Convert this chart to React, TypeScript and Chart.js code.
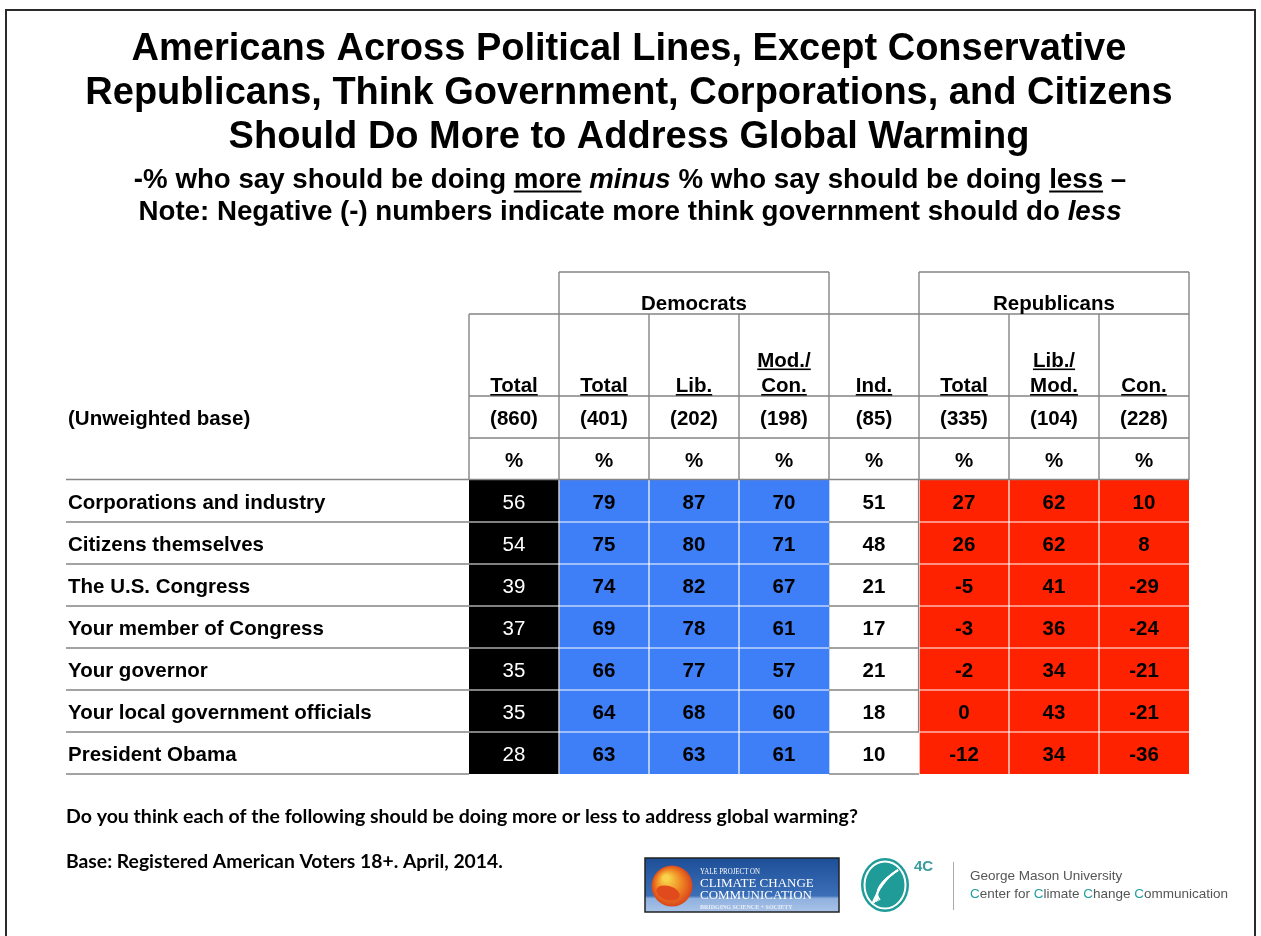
import React, { useEffect, useRef } from "react";
import { Chart, registerables } from "chart.js";

Chart.register(...registerables);

// ---------------- DATA ----------------
const titleLines = [
  "Americans Across Political Lines, Except Conservative",
  "Republicans, Think Government, Corporations, and Citizens",
  "Should Do More to Address Global Warming",
];

const subtitleLine1 = [
  { text: "-% who say should be doing " },
  { text: "more", underline: true },
  { text: " " },
  { text: "minus", italic: true },
  { text: " % who say should be doing " },
  { text: "less", underline: true },
  { text: " \u2013" },
];

const subtitleLine2 = [
  { text: "Note: Negative (-) numbers indicate more think government should do " },
  { text: "less", italic: true },
];

const rowLabels = [
  "Corporations and industry",
  "Citizens themselves",
  "The U.S. Congress",
  "Your member of Congress",
  "Your governor",
  "Your local government officials",
  "President Obama",
];

const columnHeaders = [
  ["Total"],
  ["Total"],
  ["Lib."],
  ["Mod./", "Con."],
  ["Ind."],
  ["Total"],
  ["Lib./", "Mod."],
  ["Con."],
];

const groupLabels = ["Democrats", "Republicans"];
const groupColumns = [
  [1, 3],
  [5, 7],
];

const baseLabel = "(Unweighted base)";
const unweightedBase = [860, 401, 202, 198, 85, 335, 104, 228];

const totalAll = [56, 54, 39, 37, 35, 35, 28];
const demTotal = [79, 75, 74, 69, 66, 64, 63];
const demLib = [87, 80, 82, 78, 77, 68, 63];
const demModCon = [70, 71, 67, 61, 57, 60, 61];
const independents = [51, 48, 21, 17, 21, 18, 10];
const repTotal = [27, 26, -5, -3, -2, 0, -12];
const repLibMod = [62, 62, 41, 36, 34, 43, 34];
const repCon = [10, 8, -29, -24, -21, -21, -36];

const columnValues = [
  totalAll,
  demTotal,
  demLib,
  demModCon,
  independents,
  repTotal,
  repLibMod,
  repCon,
];

const footnoteQuestion =
  "Do you think each of the following should be doing more or less to address global warming?";
const footnoteBase = "Base: Registered American Voters 18+. April, 2014.";

// ---------------- STYLE ----------------
const SANS = '"Liberation Sans", Arial, Helvetica, sans-serif';
const SERIF = '"Liberation Serif", "DejaVu Serif", serif';
const BLACK = "#000000";
const BLUE = "#3e7ef7";
const RED = "#ff2200";
const WHITE = "#ffffff";
const GRID = "#858585";
const columnFills = [BLACK, BLUE, BLUE, BLUE, WHITE, RED, RED, RED];

type Seg = { text: string; italic?: boolean; underline?: boolean };

function drawSegs(ctx: CanvasRenderingContext2D, segs: Seg[], cx: number, y: number, size: number) {
  const fontFor = (s: Seg) => `${s.italic ? "italic " : ""}bold ${size}px ${SANS}`;
  const widths = segs.map((s) => {
    ctx.font = fontFor(s);
    return ctx.measureText(s.text).width;
  });
  const total = widths.reduce((a, b) => a + b, 0);
  let x = cx - total / 2;
  ctx.textAlign = "left";
  ctx.textBaseline = "alphabetic";
  segs.forEach((s, i) => {
    ctx.font = fontFor(s);
    ctx.fillText(s.text, x, y);
    if (s.underline) ctx.fillRect(x, y + 2.5, widths[i], 2);
    x += widths[i];
  });
}

function fitFont(ctx: CanvasRenderingContext2D, text: string, style: string, family: string, width: number) {
  ctx.font = `${style} 100px ${family}`;
  const w = ctx.measureText(text).width;
  const size = (100 * width) / w;
  return `${style} ${size.toFixed(2)}px ${family}`;
}

const tablePlugin = {
  id: "tableDecor",
  afterDatasetsDraw(chart: any) {
    const ctx: CanvasRenderingContext2D = chart.ctx;
    const xs = chart.scales.x;
    const ys = chart.scales.y;
    const area = chart.chartArea;
    const px = (j: number) => Math.round(xs.getPixelForValue(j));
    const band = ys.getPixelForValue(1) - ys.getPixelForValue(0);
    const rowC = (r: number) => ys.getPixelForValue(r);
    const rowEdge = (r: number) => Math.round(rowC(0) - band / 2 + r * band);
    const top = Math.round(area.top);
    const bottom = rowEdge(rowLabels.length);
    const labelLeft = 66;
    const yGroup = top - 208;
    const yCols = top - 166;
    const yBase = top - 84;
    const yPct = top - 42;

    const line = (x1: number, y1: number, x2: number, y2: number, color: string, w: number) => {
      ctx.strokeStyle = color;
      ctx.lineWidth = w;
      ctx.beginPath();
      ctx.moveTo(x1, y1);
      ctx.lineTo(x2, y2);
      ctx.stroke();
    };

    ctx.save();

    // white separators inside coloured blocks
    for (let r = 1; r < rowLabels.length; r++) {
      const e = rowEdge(r);
      line(px(0), e, px(4), e, WHITE, 1.2);
      line(px(5), e, px(8), e, WHITE, 1.2);
    }
    [1, 2, 3, 6, 7].forEach((j) => line(px(j), top, px(j), bottom, WHITE, 1.2));
    line(px(5), top, px(5), bottom, WHITE, 1);

    // gray grid
    groupColumns.forEach(([a, b]) => {
      line(px(a), yGroup, px(b + 1), yGroup, GRID, 1.4);
      line(px(a), yGroup, px(a), top, GRID, 1.4);
      line(px(b + 1), yGroup, px(b + 1), top, GRID, 1.4);
    });
    [0, 2, 3, 6, 7].forEach((j) => line(px(j), yCols, px(j), top, GRID, 1.4));
    [yCols, yBase, yPct].forEach((y) => line(px(0), y, px(8), y, GRID, 1.4));
    line(labelLeft, top - 0.5, px(8), top - 0.5, GRID, 1.4);
    for (let r = 1; r <= rowLabels.length; r++) {
      const e = rowEdge(r);
      line(labelLeft, e, px(0), e, GRID, 1.6);
      line(px(4), e, px(5), e, GRID, 1.6);
    }
    line(px(5) - 0.5, top, px(5) - 0.5, rowEdge(rowLabels.length - 1), GRID, 1.2);

    // header texts
    ctx.fillStyle = BLACK;
    ctx.textBaseline = "alphabetic";
    ctx.textAlign = "center";
    ctx.font = `bold 20.5px ${SANS}`;
    groupColumns.forEach(([a, b], i) => {
      ctx.fillText(groupLabels[i], (px(a) + px(b + 1)) / 2, yGroup + 38);
    });
    columnHeaders.forEach((lines, j) => {
      const cx = (px(j) + px(j + 1)) / 2;
      lines.forEach((t, k) => {
        const by = yBase - 4 - (lines.length - 1 - k) * 25.5;
        ctx.fillText(t, cx, by);
        const w = ctx.measureText(t).width;
        ctx.fillRect(cx - w / 2, by + 2, w, 1.6);
      });
      ctx.fillText(`(${unweightedBase[j]})`, cx, yBase + 28.5);
      ctx.fillText("%", cx, yPct + 29);
    });
    ctx.textAlign = "left";
    ctx.fillText(baseLabel, 68, yBase + 28.5);

    // row labels
    rowLabels.forEach((lab, r) => {
      ctx.fillText(lab, 68, rowC(r) + 7.5);
    });

    // cell values
    ctx.textAlign = "center";
    columnValues.forEach((vals, j) => {
      const cx = (px(j) + px(j + 1)) / 2;
      ctx.font = j === 0 ? `20.5px ${SANS}` : `bold 20.5px ${SANS}`;
      ctx.fillStyle = j === 0 ? WHITE : BLACK;
      vals.forEach((v, r) => ctx.fillText(String(v), cx, rowC(r) + 7.5));
    });

    ctx.restore();
  },
  afterDraw(chart: any) {
    const ctx: CanvasRenderingContext2D = chart.ctx;
    const W = chart.width;
    ctx.save();
    // frame
    ctx.strokeStyle = "#2a2a2a";
    ctx.lineWidth = 2;
    ctx.strokeRect(6, 10, W - 12, 940);

    // title
    ctx.fillStyle = BLACK;
    ctx.textAlign = "center";
    ctx.textBaseline = "alphabetic";
    ctx.font = `bold 38px ${SANS}`;
    titleLines.forEach((t, i) => ctx.fillText(t, 629, 60 + i * 44));
    drawSegs(ctx, subtitleLine1, 630, 188, 27.7);
    drawSegs(ctx, subtitleLine2, 630, 219.5, 27.7);

    // footnotes
    ctx.textAlign = "left";
    ctx.font = fitFont(ctx, footnoteQuestion, "bold", "Lato, sans-serif", 792);
    ctx.fillText(footnoteQuestion, 66, 823);
    ctx.font = fitFont(ctx, footnoteBase, "bold", "Lato, sans-serif", 437);
    ctx.fillText(footnoteBase, 66, 868);

    // Yale logo
    const lx = 645, ly = 858, lw = 194, lh = 54;
    const g = ctx.createLinearGradient(0, ly, 0, ly + lh);
    g.addColorStop(0, "#1d4f98");
    g.addColorStop(0.7, "#3b6fb8");
    g.addColorStop(0.75, "#8fb0de");
    g.addColorStop(1, "#a9c3e8");
    ctx.fillStyle = g;
    ctx.fillRect(lx, ly, lw, lh);
    ctx.strokeStyle = "#222";
    ctx.lineWidth = 1.5;
    ctx.strokeRect(lx, ly, lw, lh);
    const rg = ctx.createRadialGradient(666, 878, 3, 672, 886, 21);
    rg.addColorStop(0, "#f7d24a");
    rg.addColorStop(0.5, "#f08a24");
    rg.addColorStop(1, "#d8421b");
    ctx.fillStyle = rg;
    ctx.beginPath();
    ctx.arc(672, 886, 20.5, 0, Math.PI * 2);
    ctx.fill();
    ctx.fillStyle = "#e04a1c";
    ctx.beginPath();
    ctx.ellipse(668, 893, 12, 7, 0.3, 0, Math.PI * 2);
    ctx.fill();
    ctx.fillStyle = WHITE;
    ctx.font = `7.5px ${SERIF}`;
    ctx.fillText("YALE PROJECT ON", 700, 874, 60);
    ctx.font = `13px ${SERIF}`;
    ctx.fillText("CLIMATE CHANGE", 700, 887, 129);
    ctx.fillText("COMMUNICATION", 700, 898.5, 129);
    ctx.fillStyle = "#e8eef8";
    ctx.font = `bold 6px ${SERIF}`;
    ctx.fillText("BRIDGING SCIENCE + SOCIETY", 700, 909, 95);

    // 4C logo
    ctx.fillStyle = "#1f9b98";
    ctx.beginPath();
    ctx.ellipse(885, 885, 24, 27, 0, 0, Math.PI * 2);
    ctx.fill();
    ctx.strokeStyle = WHITE;
    ctx.lineWidth = 2;
    ctx.beginPath();
    ctx.ellipse(885, 885, 20.5, 23.5, 0, 0, Math.PI * 2);
    ctx.stroke();
    ctx.lineWidth = 1.6;
    for (let k = 0; k < 5; k++) {
      ctx.beginPath();
      ctx.moveTo(898, 870);
      ctx.quadraticCurveTo(882 - k * 3, 880 + k * 2, 872 + k * 2, 904 - k);
      ctx.stroke();
    }
    ctx.fillStyle = "#3a9c9c";
    ctx.font = `bold 15px ${SANS}`;
    ctx.fillText("4C", 914, 871);
    ctx.strokeStyle = "#aaaaaa";
    ctx.lineWidth = 1;
    ctx.beginPath();
    ctx.moveTo(953.5, 862);
    ctx.lineTo(953.5, 910);
    ctx.stroke();
    ctx.fillStyle = "#555555";
    ctx.font = `13.5px ${SANS}`;
    ctx.fillText("George Mason University", 970, 880);
    const segs = [
      { t: "C", c: "#22a0a0" },
      { t: "enter for ", c: "#555555" },
      { t: "C", c: "#22a0a0" },
      { t: "limate ", c: "#555555" },
      { t: "C", c: "#22a0a0" },
      { t: "hange ", c: "#555555" },
      { t: "C", c: "#22a0a0" },
      { t: "ommunication", c: "#555555" },
    ];
    let x = 970;
    segs.forEach((s) => {
      ctx.fillStyle = s.c;
      ctx.fillText(s.t, x, 898);
      x += ctx.measureText(s.t).width;
    });

    ctx.restore();
  },
};

export default function App() {
  const ref = useRef<HTMLCanvasElement | null>(null);
  useEffect(() => {
    if (!ref.current) return;
    const chart = new Chart(ref.current, {
      type: "bar",
      data: {
        labels: rowLabels,
        datasets: columnValues.map((vals, j) => ({
          label: columnHeaders[j].join(" "),
          data: vals.map(() => [j, j + 1]) as any,
          backgroundColor: columnFills[j],
          borderWidth: 0,
          grouped: false,
          barPercentage: 1,
          categoryPercentage: 1,
        })),
      },
      options: {
        indexAxis: "y",
        animation: false,
        responsive: false,
        devicePixelRatio: 1,
        events: [],
        layout: { padding: { left: 469, right: 72, top: 480, bottom: 162 } },
        scales: {
          x: { type: "linear", min: 0, max: 8, display: false },
          y: { type: "category", display: false, offset: true },
        },
        plugins: {
          legend: { display: false },
          tooltip: { enabled: false },
          title: { display: false },
        },
      },
      plugins: [tablePlugin],
    });
    return () => chart.destroy();
  }, []);
  return (
    <div style={{ position: "absolute", left: 0, top: 0, width: 1261, height: 936, background: "#fff" }}>
      <canvas ref={ref} width={1261} height={936} style={{ display: "block" }} />
    </div>
  );
}
